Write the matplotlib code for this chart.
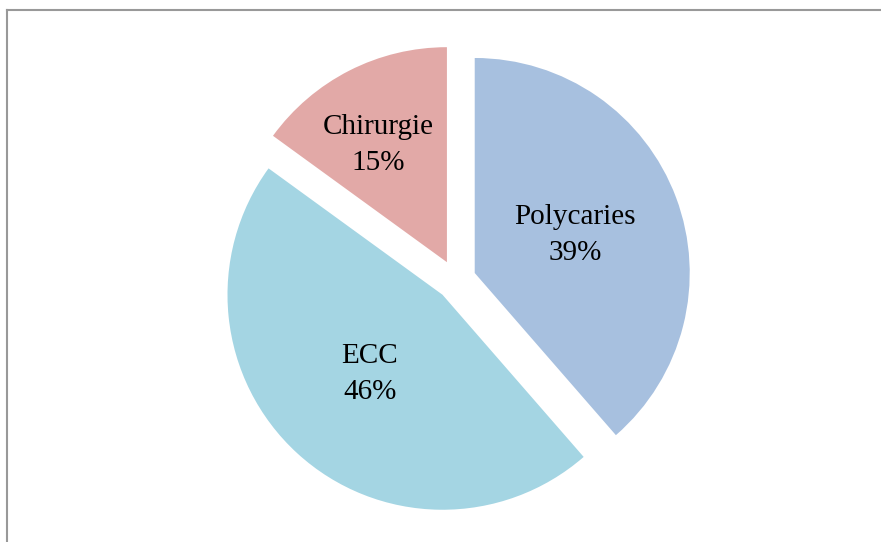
import matplotlib
matplotlib.use('Agg')
import matplotlib.pyplot as plt
from matplotlib.lines import Line2D

## Data (shares, labels show them rounded)
labels = ['Polycaries', 'ECC', 'Chirurgie']
values = [38.6, 46.4, 15.0]
colors = ['#A7C0DF', '#A4D5E3', '#E2A9A7']

plt.rcParams['font.family'] = ['Liberation Serif', 'DejaVu Serif']

fig = plt.figure(figsize=(8.81, 5.42), dpi=100)
ax = fig.add_axes([0, 0, 1, 1])

def fmt(pct):
    # pick the label that goes with this percentage
    i = min(range(len(values)), key=lambda k: abs(values[k] - pct))
    return '%s\n%d%%' % (labels[i], round(pct))

wedges, texts = ax.pie(values, colors=colors, startangle=90, counterclock=False,
                       explode=[0.093] * 3, radius=1, center=(0, 0),
                       autopct=fmt, pctdistance=0.5,
                       textprops={'fontsize': 21, 'linespacing': 1.5})[0:3:2]

# Chirurgie label sits further out and a bit to the left
cx, cy = texts[2].get_position()
texts[2].set_position((cx * 1.2 - 0.037, cy * 1.19))

# scale: radius 1 = 215 px, pie centre at (456, 280) px
ax.set_xlim(-456 / 215, (881 - 456) / 215)
ax.set_ylim(-(542 - 280) / 215, 280 / 215)
ax.set_aspect('equal')
ax.axis('off')

# chart frame (cut off on the right and bottom)
fig.add_artist(Line2D([7 / 881, 1], [1 - 10 / 542, 1 - 10 / 542], color='#999999', lw=1.5))
fig.add_artist(Line2D([7 / 881, 7 / 881], [0, 1 - 10 / 542], color='#999999', lw=1.5))

fig.savefig('out.png', dpi=100)
